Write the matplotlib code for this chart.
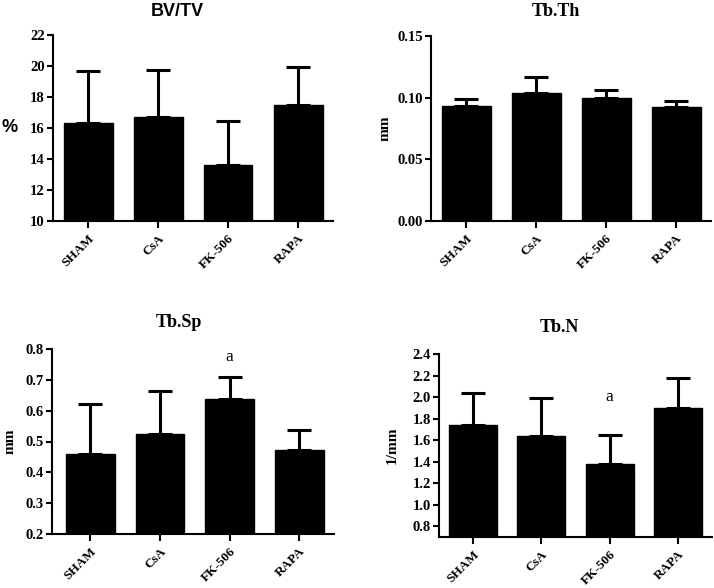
import matplotlib
matplotlib.use("Agg")
import matplotlib.pyplot as plt
from matplotlib.ticker import FormatStrFormatter, MultipleLocator

groups = ["SHAM", "CsA", "FK-506", "RAPA"]

bvtv_mean = [16.3, 16.7, 13.6, 17.5]
bvtv_top = [19.67, 19.72, 16.47, 19.92]

tbth_mean = [0.0936, 0.1036, 0.0995, 0.0923]
tbth_top = [0.0990, 0.1165, 0.1060, 0.0971]

tbsp_mean = [0.459, 0.524, 0.638, 0.472]
tbsp_top = [0.623, 0.663, 0.710, 0.538]

tbn_mean = [1.738, 1.642, 1.375, 1.902]
tbn_top = [2.039, 1.989, 1.651, 2.176]
tbn_ticks = [0.8, 1.0, 1.2, 1.4, 1.6, 1.8, 2.0, 2.2, 2.4]

W, H = 714, 588
fig = plt.figure(figsize=(W / 100, H / 100), dpi=100)

SERIF = ["Liberation Serif", "DejaVu Serif"]
SANS = ["Liberation Sans", "DejaVu Sans"]


def ax_at(l, r, b, t):
    return fig.add_axes([l / W, 1 - b / H, (r - l) / W, (b - t) / H])


def style_yticks(ax):
    for lab in ax.get_yticklabels():
        lab.set_family(SERIF)
        lab.set_fontweight("bold")
        lab.set_fontsize(10.5)


def panel(ax, means, tops, ylim, major, fmt, xlim, title, title_font, title_size,
          title_pad, title_x, ylabel, ylabel_font, ylabel_size):
    x = list(range(len(groups)))
    errs = [t - m for t, m in zip(tops, means)]
    ax.bar(x, means, width=0.7, color="black", edgecolor="black", zorder=2)
    ax.errorbar(x, means, yerr=[[0] * len(x), errs], fmt="none", ecolor="black",
                elinewidth=2.2, capsize=8.5, capthick=2.2, zorder=1)
    ax.set_xlim(*xlim)
    ax.set_ylim(*ylim)
    if major is not None:
        ax.yaxis.set_major_locator(MultipleLocator(major))
    ax.yaxis.set_major_formatter(FormatStrFormatter(fmt))
    ax.set_xticks(x)
    ax.set_xticklabels(groups, rotation=45, ha="right", rotation_mode="anchor",
                       family=SERIF, fontweight="bold", fontsize=9.5)
    style_yticks(ax)
    for s in ["top", "right"]:
        ax.spines[s].set_visible(False)
    for s in ["left", "bottom"]:
        ax.spines[s].set_linewidth(1.5)
    ax.tick_params(axis="y", direction="out", length=4, width=1.5, pad=2)
    ax.tick_params(axis="x", direction="out", length=5, width=1.5, pad=3)
    t = ax.set_title(title, family=title_font, fontweight="bold", fontsize=title_size,
                     pad=title_pad)
    t.set_x(title_x)
    ax.set_ylabel(ylabel, family=ylabel_font, fontweight="bold", fontsize=ylabel_size)
    return ax


ax1 = ax_at(53, 333, 221, 35)
panel(ax1, bvtv_mean, bvtv_top, (10, 22), 2, "%d", (-0.5, 3.5), "BV/TV", SANS, 13,
      14, 0.443, "%", SANS, 13)
ax1.yaxis.label.set_rotation(0)
ax1.yaxis.label.set_va("center")
ax1.yaxis.label.set_ha("center")
ax1.yaxis.set_label_coords(-0.155, 0.5)

ax2 = ax_at(431, 711, 221, 36)
panel(ax2, tbth_mean, tbth_top, (0, 0.15), 0.05, "%.2f", (-0.5, 3.5), "Tb.Th", SERIF, 13,
      14.5, 0.446, "mm", SERIF, 11)
ax2.yaxis.set_label_coords(-0.14, 0.5)

ax3 = ax_at(52, 334, 534, 349)
panel(ax3, tbsp_mean, tbsp_top, (0.2, 0.8), 0.1, "%.1f", (-0.55, 3.5), "Tb.Sp", SERIF, 13,
      16, 0.45, "mm", SERIF, 11)
ax3.yaxis.set_label_coords(-0.124, 0.5)
ax3.text(2, 0.773, "a", ha="center", va="center", family=SERIF, fontsize=12.5)

ax4 = ax_at(439, 712, 537, 354)
panel(ax4, tbn_mean, tbn_top, (0.7, 2.4), None, "%.1f", (-0.5, 3.5), "Tb.N", SERIF, 13,
      15.5, 0.44, "1/mm", SERIF, 11)
ax4.set_yticks(tbn_ticks)
ax4.yaxis.set_major_formatter(FormatStrFormatter("%.1f"))
style_yticks(ax4)
ax4.yaxis.set_label_coords(-0.147, 0.5)
ax4.text(2, 2.005, "a", ha="center", va="center", family=SERIF, fontsize=12.5)

fig.savefig("out.png", dpi=100, facecolor="white")
